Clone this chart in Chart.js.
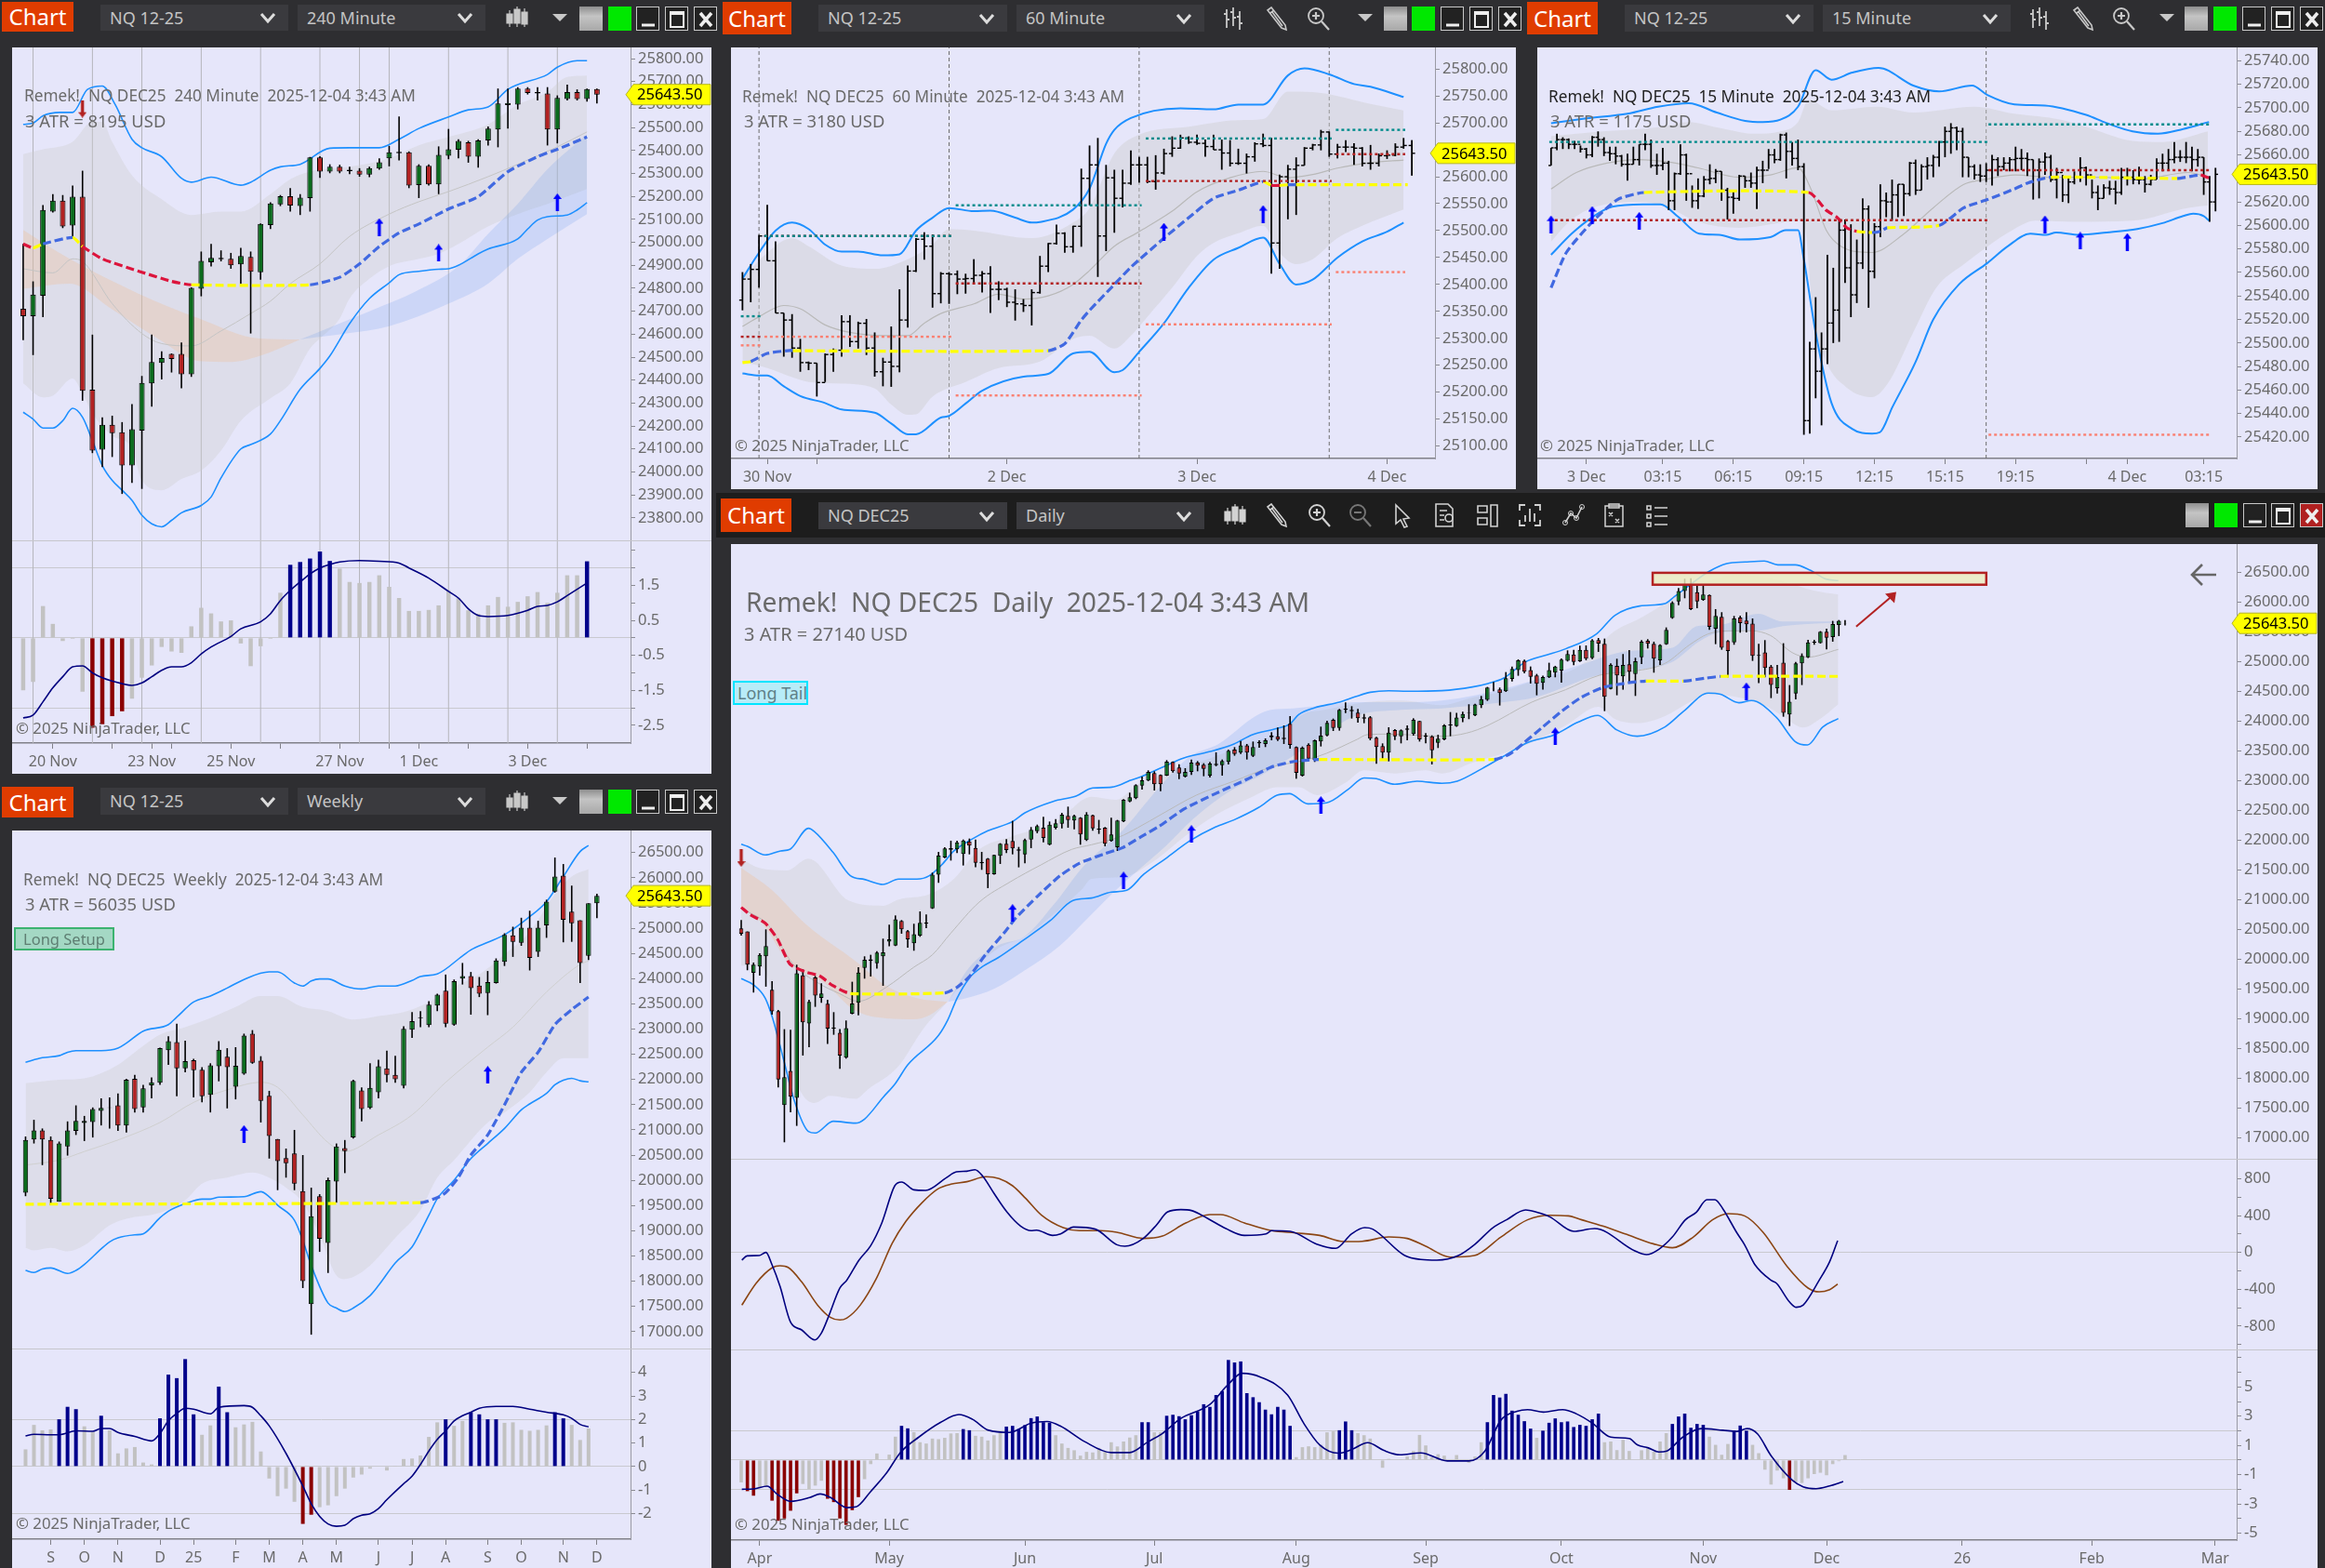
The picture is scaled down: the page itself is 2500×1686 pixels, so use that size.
<!DOCTYPE html>
<html>
<head>
<meta charset="utf-8">
<title>NQ DEC25 workspace</title>
<script src="https://cdn.jsdelivr.net/npm/chart.js@4/dist/chart.umd.min.js"></script>
<style>
  html, body { margin: 0; padding: 0; width: 2500px; height: 1686px; overflow: hidden; background: #2e2e31; }
  #stage { position: absolute; left: 0; top: 0; width: 2500px; height: 1686px; font-family: "Noto Sans", sans-serif; }
  #stage canvas, .el { position: absolute; }
  .el { box-sizing: border-box; white-space: pre; line-height: 1; }
</style>
</head>
<body>
<div id="stage"></div>
<script>
/* ══════════════════════════════════════
   240 MINUTE
══════════════════════════════════════ */
const h4Open = [24711,24678,24767,25134,25182,25073,25199,24358,24097,24205,24173,24028,24180,24386,24475,24514,24514,24425,24798,24913,24926,24928,24904,24937,24870,25075,25165,25201,25158,25193,25370,25308,25329,25310,25312,25295,25321,25366,25388,25392,25249,25334,25253,25377,25403,25436,25373,25444,25492,25598,25600,25670,25648,25648,25492,25624,25655,25624,25668];
const h4High = [24993,24830,25162,25210,25206,25247,25312,24598,24238,24245,24217,24295,24418,24598,24525,24516,24564,24804,24960,24993,24965,24954,24976,24960,25082,25175,25206,25236,25210,25372,25375,25340,25338,25329,25323,25329,25366,25420,25548,25396,25340,25340,25418,25494,25449,25442,25449,25505,25670,25670,25676,25676,25676,25676,25640,25687,25666,25670,25670];
const h4Low = [24574,24509,24674,25130,25062,25019,24310,24082,24021,24065,23904,23952,23926,24284,24403,24433,24364,24414,24765,24895,24917,24885,24820,24603,24837,25058,25158,25134,25119,25134,25281,25301,25301,25297,25286,25284,25316,25331,25357,25236,25193,25247,25210,25362,25366,25347,25325,25422,25414,25496,25579,25644,25618,25422,25431,25618,25618,25613,25605];
const h4Close = [24678,24772,25141,25182,25069,25199,24353,24093,24205,24169,24028,24186,24388,24479,24496,24492,24425,24802,24919,24932,24932,24900,24941,24872,25080,25169,25201,25160,25195,25370,25308,25329,25308,25316,25295,25323,25349,25392,25394,25247,25334,25253,25381,25405,25442,25373,25444,25496,25605,25607,25670,25650,25655,25492,25629,25655,25624,25668,25643.5];
const h4Upper = [[0,25514],[1,25520],[2,25551],[3.7,25566],[5,25566],[6.5,25666],[8,25681],[9.3,25600],[11,25449],[12,25412],[14,25373],[16,25279],[17,25262],[19,25284],[22,25249],[23,25262],[25,25314],[26,25329],[28,25340],[31,25410],[33,25412],[36,25412],[38,25449],[40,25496],[43,25546],[45,25577],[47,25590],[49,25666],[50,25687],[53,25731],[54,25763],[56,25791],[57,25791]];
const h4Lower = [[0,24260],[1,24230],[2,24191],[3,24191],[4,24223],[5,24277],[6,24238],[7,24136],[8,24028],[9,23963],[10,23920],[11,23876],[12,23811],[13,23774],[14,23761],[15,23789],[16,23822],[18,23854],[19,23891],[20,23974],[22,24100],[23,24119],[25,24165],[26,24223],[28,24360],[30,24451],[31,24505],[33,24646],[35,24755],[37,24824],[38,24859],[40,24874],[42,24883],[43,24885],[44,24900],[46,24950],[47,24971],[50,25015],[51,25058],[52,25097],[53,25112],[55,25119],[56,25141],[57,25173]];
const h4BandTop = [[0,25384],[2,25405],[5,25438],[7,25525],[8,25525],[9,25438],[11,25292],[14,25188],[17,25119],[20,25134],[22,25134],[25,25210],[27,25275],[29,25308],[33,25329],[37,25366],[40,25423],[43,25459],[47,25514],[50,25600],[53,25655],[55,25720],[57,25726]];
const h4BandLow = [[0,24386],[2,24325],[3,24332],[5,24407],[6,24342],[7,24256],[9,24158],[11,24104],[12,23963],[14,23920],[16,23969],[18,24006],[20,24093],[22,24223],[25,24321],[27,24386],[29,24538],[30,24581],[32,24668],[33,24755],[35,24841],[37,24896],[40,24928],[42,24950],[44,24993],[47,25069],[50,25123],[53,25167],[57,25232]];
const h4BearTop = [[0,25054],[4.7,24928],[11.7,24776],[17.8,24668],[23.9,24581],[28,24577]];
const h4BearLow = [[0,24798],[4.7,24820],[8.9,24711],[13.6,24581],[17.8,24483],[21,24479],[23.9,24505],[28,24577]];
const h4BullTop = [[28,24577],[31.3,24635],[35,24700],[39.7,24787],[44,24896],[47,25037],[50,25167],[53,25318],[57,25470]];
const h4BullLow = [[28,24577],[32.7,24603],[37,24635],[43,24733],[47,24820],[50,24928],[53,25015],[57,25123]];
const h4Thin = [[0,24885],[3,24867],[5,24928],[6,24917],[9,24733],[12,24603],[14,24559],[17,24549],[20,24614],[23,24690],[25,24744],[27,24820],[30,24906],[33,25026],[37,25123],[40,25177],[43,25221],[47,25286],[50,25340],[54,25416],[57,25481]];
const h4Trail = [[0,24993],[1,24976],[2,24993],[5,25021],[6,24982],[8,24928],[12,24870],[15,24830],[17,24815],[29,24815],[32,24848],[34,24906],[36,24982],[38,25041],[40,25080],[43,25145],[46,25199],[49,25308],[52,25373],[54,25405],[57,25459]];
const h4TrailState = [-1,0,1,0,-1,-1,-1,-1,0,1,1,1,1,1,1,1,1,1,1,1,1];
const h4UpArrows = [[36,25067],[42,24954],[54,25175]];
const h4DownArrows = [[6,25581]];
const h4Sessions = [1,7,12,18,24,30,34,37,43,49,54];
const h4TickAt = [3,9,13,15,21,26,32,37,40,45,51,57];
const h4TickText = ["20 Nov","","23 Nov","","25 Nov","","27 Nov","","1 Dec","","3 Dec",""];
const h4PriceTicks = [25800,25700,25600,25500,25400,25300,25200,25100,25000,24900,24800,24700,24600,24500,24400,24300,24200,24100,24000,23900,23800];
const h4OscTicks = [2.5,2,1.5,1,0.5,0,-0.5,-1,-1.5,-2,-2.5];
const h4Osc = [-1.5,-1.26,0.91,0.4,-0.09,-0.03,-1.54,-2.57,-2.47,-2.24,-2.1,-1.74,-1.14,-0.79,-0.26,-0.39,-0.43,0.33,0.86,0.7,0.47,0.5,-0.16,-0.81,-0.24,-0.03,1.29,2.09,2.17,2.27,2.47,2.2,1.98,1.6,1.57,1.6,1.79,1.46,1.14,0.77,0.77,0.8,0.93,1.36,1.14,0.79,0.69,0.93,1.17,0.89,1.03,1.19,1.31,1,1.29,1.79,1.79,2.19];
const h4OscLine = [[0,-2.29],[1,-2.21],[2,-1.83],[3,-1.43],[4,-1.11],[5,-0.83],[6,-0.8],[7,-1],[8,-1.14],[10,-1.31],[11,-1.36],[12,-1.29],[13,-1.11],[14,-0.93],[15,-0.83],[16,-0.83],[17,-0.71],[18,-0.46],[19,-0.26],[21,0.04],[22,0.26],[24,0.46],[25,0.69],[26,1.07],[27,1.36],[28,1.6],[29,1.83],[30,2],[31,2.1],[32,2.17],[34,2.21],[36,2.19],[38,2.14],[39,2],[41,1.71],[43,1.33],[44,1.14],[45,0.83],[46,0.64],[47,0.61],[49,0.64],[51,0.79],[52,0.9],[53,0.93],[54,1.03],[55,1.21],[56,1.39],[57,1.57]];

/* ══════════════════════════════════════
   60 MINUTE
══════════════════════════════════════ */
const h1Open = [25371,25410,25428,25490,25444,25347,25334,25282,25255,25254,25218,25270,25278,25331,25294,25328,25282,25238,25256,25248,25334,25425,25484,25471,25383,25420,25419,25410,25411,25417,25420,25391,25391,25367,25364,25361,25385,25434,25476,25495,25470,25508,25597,25622,25490,25598,25560,25588,25622,25622,25591,25607,25643,25653,25672,25664,25662,25656,25650,25644,25625,25625,25637,25661,25658,25477,25600,25614,25621,25653,25659,25683,25642,25655,25655,25653,25625,25625,25639,25640,25655,25658];
const h1High = [25423,25438,25492,25548,25480,25347,25345,25299,25257,25254,25272,25281,25343,25343,25331,25336,25311,25264,25322,25391,25435,25486,25497,25493,25423,25423,25426,25420,25447,25425,25434,25406,25394,25391,25373,25391,25453,25477,25511,25497,25509,25615,25658,25672,25622,25613,25613,25649,25637,25637,25640,25652,25675,25678,25675,25678,25669,25678,25669,25668,25652,25643,25664,25680,25672,25604,25622,25636,25655,25661,25687,25684,25661,25668,25662,25655,25659,25643,25649,25662,25672,25668];
const h1Low = [25352,25367,25394,25444,25347,25266,25264,25238,25241,25192,25219,25238,25266,25284,25281,25269,25229,25211,25210,25237,25320,25423,25446,25357,25365,25364,25382,25383,25403,25385,25347,25371,25358,25333,25349,25324,25383,25423,25474,25459,25459,25470,25547,25414,25462,25496,25543,25585,25589,25588,25576,25604,25637,25652,25661,25659,25637,25650,25613,25619,25622,25606,25628,25655,25420,25429,25521,25529,25621,25649,25649,25637,25634,25646,25622,25619,25613,25619,25633,25638,25652,25602];
const h1Close = [25410,25428,25490,25444,25347,25334,25282,25255,25254,25218,25270,25278,25331,25294,25328,25282,25238,25256,25248,25334,25425,25484,25471,25383,25420,25419,25410,25411,25417,25420,25391,25391,25367,25364,25361,25385,25434,25476,25495,25470,25508,25597,25622,25490,25598,25560,25588,25622,25622,25591,25607,25643,25653,25672,25664,25662,25656,25650,25644,25625,25625,25637,25661,25658,25477,25600,25614,25621,25653,25659,25683,25642,25655,25655,25653,25625,25625,25639,25640,25655,25658,25643.5];
const h1Upper = [[0,25411],[2,25459],[4,25500],[6,25515],[8,25503],[10,25474],[12,25461],[14,25461],[17,25454],[19,25456],[21,25500],[23,25524],[25,25542],[28,25536],[30,25537],[33,25524],[35,25515],[36,25516],[40,25539],[42,25578],[44,25661],[45,25687],[47,25709],[53,25727],[57,25725],[60,25734],[63,25734],[66,25788],[68,25801],[71,25790],[74,25772],[76,25767],[80,25748]];
const h1Lower = [[0,25235],[2,25231],[3,25231],[5,25211],[7,25193],[10,25180],[12,25168],[16,25162],[18,25142],[20,25122],[21,25122],[24,25153],[25,25156],[27,25179],[29,25203],[34,25229],[37,25234],[40,25272],[42,25275],[45,25237],[46,25241],[48,25275],[51,25328],[54,25394],[57,25446],[60,25468],[63,25487],[65,25438],[67,25400],[69,25409],[72,25450],[75,25480],[78,25498],[80,25515]];
const h1BandTop = [[0,25411],[3,25459],[6,25486],[8,25471],[12,25435],[16,25429],[20,25447],[23,25474],[25,25503],[28,25500],[35,25486],[40,25515],[42,25542],[45,25643],[48,25678],[54,25693],[60,25705],[63,25707],[66,25758],[69,25757],[72,25750],[76,25735],[80,25723]];
const h1BandLow = [[0,25257],[3,25245],[6,25228],[8,25219],[12,25216],[16,25207],[18,25177],[20,25158],[21,25159],[23,25192],[27,25219],[31,25245],[36,25257],[40,25299],[42,25305],[45,25281],[47,25305],[49,25340],[52,25394],[55,25453],[57,25477],[60,25495],[63,25509],[65,25459],[67,25438],[69,25447],[72,25486],[75,25509],[80,25539]];
const h1Thin = [[0,25322],[2,25340],[5,25361],[7,25355],[10,25325],[13,25311],[17,25305],[20,25305],[22,25328],[24,25346],[28,25364],[31,25382],[34,25373],[37,25379],[40,25400],[42,25426],[45,25471],[48,25498],[52,25536],[55,25572],[59,25598],[63,25610],[66,25598],[69,25604],[72,25616],[76,25626],[80,25631]];
const h1Trail = [[0,25255],[1,25257],[3,25272],[6,25278],[6.1,25277],[37,25277],[39,25290],[41,25334],[42,25352],[45,25400],[47,25432],[51,25486],[54,25524],[57,25560],[60,25575],[63,25591],[64,25584],[65,25584],[66,25585],[67,25585],[80.5,25585]];
const h1TrailState = [0,1,1,1,0,1,1,1,1,1,1,1,1,1,1,0,-1,0,1,0,0];
const h1ResistTeal = [[[-0.2,25341],[2.3,25341]],[[2.65,25490],[25.3,25490]],[[25.8,25547],[48.3,25547]],[[48.8,25671],[71.3,25671]],[[71.8,25687],[80.2,25687]]];
const h1MidRed = [[[-0.2,25303],[2.3,25303]],[[2.65,25490],[25.3,25490]],[[25.8,25402],[48.3,25402]],[[48.8,25592],[71.3,25592]],[[71.8,25642],[80.2,25642]]];
const h1SupportSalmon = [[[-0.2,25287],[2.3,25287]],[[2.65,25303],[25.3,25303]],[[25.8,25194],[48.3,25194]],[[48.8,25326],[71.3,25326]],[[71.8,25423],[80.2,25423]]];
const h1UpArrows = [[51,25498],[63,25531]];
const h1Sessions = [2,25,48,71];
const h1TickAt = [3,9,32,55,78];
const h1TickText = ["30 Nov","","2 Dec","3 Dec","4 Dec"];
const h1PriceTicks = [25800,25750,25700,25650,25600,25550,25500,25450,25400,25350,25300,25250,25200,25150,25100];

/* ══════════════════════════════════════
   15 MINUTE
══════════════════════════════════════ */
const m15Open = [25651,25666,25673,25673,25669,25669,25665,25660,25675,25673,25662,25661,25659,25652,25652,25656,25669,25669,25651,25651,25653,25621,25644,25660,25644,25621,25625,25639,25640,25646,25630,25624,25623,25642,25638,25636,25647,25647,25660,25656,25677,25663,25657,25650,25434,25495,25476,25495,25517,25528,25596,25564,25541,25568,25614,25561,25599,25621,25620,25626,25635,25627,25653,25630,25650,25651,25658,25671,25680,25683,25680,25658,25650,25643,25642,25647,25656,25650,25653,25656,25657,25657,25656,25647,25654,25658,25639,25645,25626,25637,25641,25649,25643,25628,25623,25632,25631,25628,25641,25641,25639,25639,25635,25639,25653,25653,25656,25658,25658,25658,25656,25658,25637,25620];
const m15High = [25666,25678,25675,25674,25672,25668,25666,25676,25680,25675,25667,25667,25660,25661,25667,25669,25678,25673,25661,25666,25655,25645,25669,25661,25634,25640,25642,25652,25648,25646,25632,25629,25643,25642,25645,25650,25655,25665,25665,25678,25679,25671,25673,25653,25501,25539,25509,25575,25564,25606,25605,25601,25588,25623,25617,25602,25635,25628,25639,25635,25635,25654,25656,25652,25658,25660,25672,25684,25687,25684,25683,25658,25652,25652,25653,25660,25658,25658,25658,25667,25665,25662,25656,25657,25662,25660,25649,25643,25642,25646,25658,25650,25639,25634,25635,25638,25638,25649,25649,25647,25650,25642,25643,25657,25661,25665,25671,25664,25671,25667,25665,25658,25642,25649];
const m15Low = [25651,25664,25665,25665,25665,25662,25657,25658,25667,25659,25655,25652,25650,25638,25652,25651,25664,25649,25643,25647,25613,25613,25643,25621,25615,25614,25624,25635,25636,25621,25605,25610,25621,25632,25632,25614,25636,25648,25653,25655,25640,25651,25647,25422,25423,25453,25430,25482,25500,25501,25551,25522,25534,25563,25530,25555,25590,25607,25604,25607,25608,25625,25626,25630,25639,25641,25650,25658,25661,25664,25641,25641,25639,25637,25637,25634,25642,25647,25646,25646,25647,25642,25622,25623,25643,25637,25623,25620,25619,25635,25637,25634,25623,25613,25623,25626,25618,25626,25634,25635,25635,25628,25634,25639,25646,25647,25653,25654,25653,25646,25650,25626,25603,25612];
const m15Close = [25666,25673,25673,25669,25669,25665,25660,25675,25673,25662,25661,25659,25652,25652,25656,25669,25669,25651,25651,25653,25621,25644,25660,25644,25621,25625,25639,25640,25646,25630,25624,25623,25642,25638,25636,25647,25647,25660,25656,25677,25663,25657,25650,25434,25495,25476,25495,25517,25528,25596,25564,25541,25568,25614,25561,25599,25621,25620,25626,25635,25627,25653,25630,25650,25651,25658,25671,25680,25683,25680,25658,25650,25643,25642,25647,25656,25650,25653,25656,25657,25657,25656,25647,25654,25658,25639,25645,25626,25637,25641,25649,25643,25628,25623,25632,25631,25628,25641,25641,25639,25639,25635,25639,25653,25653,25656,25658,25658,25658,25656,25658,25637,25620,25643.5];
const m15Upper = [[0,25687],[6,25691],[13,25695],[18.2,25701],[23.4,25704],[28.2,25696],[33,25689],[36,25688],[39,25690],[42,25701],[45,25732],[47.7,25724],[51.2,25730],[55.7,25734],[61.6,25719],[66,25714],[71.6,25719],[74.2,25711],[78.8,25703],[84,25702],[91,25694],[94.5,25687],[98.9,25680],[103.2,25678],[107.5,25682],[111.9,25688]];
const m15Lower = [[0,25575],[3.5,25593],[7,25607],[10.4,25616],[15.6,25618],[18.6,25618],[21.7,25607],[25.2,25593],[28.6,25592],[32.1,25588],[37.3,25590],[39.9,25596],[42,25596],[42.9,25574],[45,25509],[47.7,25449],[51.2,25427],[54.6,25423],[55.9,25424],[58.1,25446],[62,25484],[65,25520],[69.4,25550],[74.2,25568],[77.6,25582],[81.5,25593],[84.2,25592],[85.9,25594],[89.8,25592],[94.5,25594],[99.7,25597],[104,25602],[107.5,25608],[109.2,25610],[111,25608],[111.9,25604]];
const m15BandTop = [[0,25676],[8.7,25680],[19,25684],[23.4,25688],[28.6,25683],[34.7,25678],[39,25680],[42,25688],[43.8,25707],[47.7,25698],[55.5,25701],[61.6,25696],[72,25701],[78.8,25695],[86.7,25690],[91,25684],[98.9,25672],[104,25671],[111.7,25680]];
const m15BandLow = [[0,25586],[2.6,25601],[7,25615],[15.6,25620],[20,25615],[25,25603],[32,25598],[42.9,25604],[44.7,25520],[46.8,25484],[50.3,25462],[54.6,25454],[57.2,25465],[61.6,25509],[65.5,25547],[70.2,25567],[74.2,25582],[78.8,25597],[82.4,25604],[89.3,25603],[98.9,25604],[108.4,25615],[111.7,25617]];
const m15Thin = [[0,25631],[4.3,25645],[9.5,25653],[14.7,25656],[20,25654],[25,25649],[32,25641],[37.3,25643],[42,25649],[44.2,25631],[46.8,25596],[49.4,25582],[54.6,25577],[59.8,25592],[65,25615],[70.2,25635],[73.7,25639],[78.9,25643],[85,25641],[93.7,25641],[99.7,25639],[108.4,25645],[111.7,25641]];
const m15Trail = [[0,25547],[2.6,25577],[7,25603],[11.3,25622],[15.8,25628],[43.8,25628],[46.8,25613],[48.6,25607],[50.3,25598],[52,25595],[54.6,25594],[56,25595],[57.2,25598],[66,25600],[70.2,25615],[74.2,25622],[78.8,25631],[81,25636],[85,25641],[106.5,25640],[109,25642],[110.5,25643],[112,25640]];
const m15TrailState = [1,1,1,1,0,-1,-1,-1,-1,0,1,1,0,1,1,1,1,1,0,1,1,-1,-1];
const m15ResistTeal = [[[-0.3,25671],[74.2,25671]],[[74.4,25686],[112,25686]]];
const m15MidRed = [[[-0.3,25604.5],[74.2,25604.5]],[[74.4,25647],[112,25647]]];
const m15SupportSalmon = [[[74.4,25422],[112,25422]]];
const m15UpArrows = [[0,25601],[7,25609],[15,25604],[84,25601],[90,25587],[98,25586]];
const m15Sessions = [74];
const m15TickAt = [6,19,31,43,55,67,79,91,98,111];
const m15TickText = ["3 Dec","03:15","06:15","09:15","12:15","15:15","19:15","","4 Dec","03:15"];
const m15PriceTicks = [25740,25720,25700,25680,25660,25640,25620,25600,25580,25560,25540,25520,25500,25480,25460,25440,25420];

/* ══════════════════════════════════════
   WEEKLY
══════════════════════════════════════ */
const wkOpen = [19756,20811,20989,20800,19577,20671,20979,21139,21158,21377,21436,21487,21089,22013,21446,21884,21934,22581,22740,22223,22382,22193,21695,22263,22452,21855,22114,22909,22372,21675,20820,20442,20532,19786,17547,19686,18761,19974,20641,20850,21785,21436,21745,22223,22094,21874,22987,23215,23077,23464,23763,23087,24002,24052,23863,23713,23912,24331,24859,24710,25008,24530,25058,25724,26043,25326,25157,24451,25495];
const wkHigh = [20870,21201,21029,20870,20770,21169,21487,21278,21446,21626,21646,21725,22013,22093,21894,22043,22631,22859,23108,22770,22412,22243,22322,22760,22621,22641,22909,22979,22462,21775,20820,20631,21000,20502,19855,19726,20054,20731,20800,21994,21845,22322,22392,22571,22472,23057,23335,23355,23554,23703,24081,23982,24311,24132,24032,24151,24401,24899,25029,25207,25346,25147,25565,26401,26272,25844,25157,25495,25685];
const wkLow = [19686,20731,20302,19507,19577,20491,20900,20780,20850,21089,21029,20979,20949,21347,21347,21626,21894,22292,21666,22143,21646,21546,21347,21964,21427,21606,22094,22312,21148,20432,19806,20054,19806,17865,16940,18582,18164,19557,20144,20830,21168,21416,21626,21944,21934,21825,22827,23037,23037,23355,23037,23067,23883,23285,23634,23276,23902,24251,24431,24650,24162,24431,24809,25705,24720,24730,23913,24371,25197];
const wkClose = [20800,20989,20811,19636,20731,20989,21178,21178,21416,21436,21446,21089,21993,21416,21825,21944,22621,22760,22223,22362,22183,21666,22283,22591,22243,22273,22870,22332,21576,20880,20382,20342,19935,18004,19288,18841,20004,20671,20581,21974,21416,21835,22263,22094,22004,23007,23156,23235,23484,23683,23107,23952,24052,23813,23703,23932,24361,24869,24730,25008,24411,25008,25525,26023,25167,25098,24311,25495,25643.5];
const wkUpper = [[0,22342],[2,22432],[4,22472],[5,22541],[6,22571],[9,22571],[11,22621],[12,22720],[14,22959],[17,23088],[18,23237],[20,23536],[22,23655],[24,23814],[26,23984],[29,24133],[30,24133],[32,23914],[33,23854],[34,23954],[35,23993],[36,23993],[38,23854],[40,23795],[42,23854],[44,23854],[46,23964],[47,24043],[49,24093],[52,24451],[53,24570],[55,24720],[57,24869],[60,25227],[62,25525],[64,26023],[66,26520],[67,26640]];
const wkLower = [[0,18214],[1,18174],[2,18244],[3,18264],[5,18154],[6,18214],[7,18333],[9,18642],[10,18781],[11,18860],[13,18920],[14,18940],[16,19258],[17,19388],[19,19537],[21,19627],[22,19627],[23,19666],[26,19676],[28,19776],[29,19676],[30,19507],[32,19209],[33,18811],[34,18313],[36,17567],[37,17467],[38,17398],[39,17467],[41,17716],[42,17915],[44,18363],[46,18681],[47,18980],[48,19308],[49,19636],[51,20004],[53,20432],[55,20731],[57,21029],[59,21397],[60,21516],[62,21725],[63,21894],[64,21984],[65,22024],[66,21974],[67,21954]];
const wkBandTop = [[0,21924],[4,21994],[7,22024],[11,22292],[13,22541],[16,22889],[19,23038],[22,23217],[25,23436],[28,23655],[30,23655],[33,23436],[36,23357],[39,23188],[42,23257],[45,23337],[48,23536],[51,23835],[54,24084],[57,24481],[60,24929],[63,25675],[65,26023],[67,26172]];
const wkBandLow = [[0,18662],[1,18612],[3,18662],[5,18592],[7,18711],[10,19109],[12,19238],[16,19358],[19,19606],[21,19935],[24,20054],[27,20154],[29,20054],[31,19855],[33,19557],[35,18910],[37,18114],[38,18045],[39,18084],[41,18313],[44,18860],[47,19408],[49,20054],[51,20402],[55,21148],[57,21347],[60,21745],[62,22143],[64,22422],[67,22422]];
const wkThin = [[0,20303],[4,20402],[7,20572],[11,20800],[16,21148],[20,21546],[24,21795],[28,21944],[30,21845],[33,21298],[36,20750],[38,20572],[42,20900],[46,21298],[50,21944],[55,22641],[58,23038],[62,23735],[66,24282],[67,24352]];
const wkTrail = [[0,19527],[47,19557],[49,19656],[50,19756],[51.5,20054],[53,20502],[55,20900],[57,21497],[59,22143],[61,22541],[63,23088],[65,23387],[67,23635]];
const wkTrailState = [0,1,1,1,1,1,1,1,1,1,1,1,1];
const wkUpArrows = [[26,20920],[55,22094]];
const wkTickAt = [3,7,11,16,20,25,29,33,37,42,46,50,55,59,64,68];
const wkTickText = ["S","O","N","D","25","F","M","A","M","J","J","A","S","O","N","D"];
const wkPriceTicks = [26500,26000,25500,25000,24500,24000,23500,23000,22500,22000,21500,21000,20500,20000,19500,19000,18500,18000,17500,17000];
const wkOscTicks = [4,3,2,1,0,-1,-2];
const wkOsc = [0.73,1.77,1.54,1.58,2.01,2.54,2.44,1.71,1.48,2.16,1.54,0.56,0.77,0.83,0.17,0.09,2.05,3.91,3.76,4.57,2.22,1.35,1.75,3.4,2.31,1.67,1.79,1.9,0.64,-0.51,-1.26,-0.94,-1.5,-2.44,-2.05,-1.73,-1.65,-1.26,-0.94,-0.47,-0.34,-0.09,0,-0.17,0.01,0.32,0.34,0.47,1.26,1.88,2.01,1.73,1.94,2.31,2.22,2.01,2.01,1.86,1.88,1.56,1.52,1.56,1.75,2.31,2.05,1.77,1.13,1.62];
const wkOscLine = [[0,1.3],[1,1.37],[3,1.35],[4,1.35],[6,1.52],[8,1.5],[9,1.62],[10,1.62],[11,1.45],[13,1.28],[15,1.09],[16,1.41],[17,1.94],[18,2.26],[19,2.48],[20,2.44],[22,2.24],[23,2.52],[26,2.59],[27,2.52],[28,2.16],[29,1.73],[31,0.56],[33,-0.83],[34,-1.58],[35,-2.12],[36,-2.44],[37,-2.54],[38,-2.5],[39,-2.22],[40,-2.07],[41,-2.01],[42,-1.79],[43,-1.41],[45,-0.73],[46,-0.41],[47,0.09],[48,0.66],[49,1.15],[50,1.52],[51,1.94],[52,2.16],[53,2.31],[54,2.48],[56,2.56],[58,2.56],[60,2.44],[62,2.31],[64,2.2],[65,2.05],[66,1.79],[67,1.69]];

/* ══════════════════════════════════════
   DAILY
══════════════════════════════════════ */
const dyOpen = [20517,20465,19772,19876,20048,19486,19126,17548,18121,17668,19730,18918,19694,19350,19251,18834,18762,18345,19084,19267,19855,19970,19933,20048,20293,20230,20642,20470,20267,20397,20595,20855,21418,21709,21839,21845,21767,21980,21871,21610,21689,21428,21735,21938,21985,21824,21761,22011,22152,22209,21923,22209,22277,22407,22329,22376,22001,22418,22173,22209,21986,21881,22314,22652,22704,22918,23001,23126,23095,23084,23314,23220,23069,23147,23303,23267,23084,23261,23261,23314,23522,23470,23590,23418,23626,23616,23730,23746,23699,23954,23564,23084,23605,23345,23657,23761,24022,23886,24188,24168,24142,24043,24063,23720,23579,23470,23850,23746,23855,23782,24001,23761,23746,23636,23694,23928,23918,24048,24137,24095,24267,24356,24533,24533,24502,24710,24856,25012,24856,24767,24642,24736,24814,24850,25012,25121,25007,25199,25059,25361,25298,24543,24929,24752,24955,24793,25074,25350,25298,25022,25293,25731,26012,26184,26298,26168,26038,26121,25554,25751,25345,25324,25741,25689,25637,25095,25153,24918,24554,24981,24111,24465,24970,25074,25319,25309,25501,25413,25616,25640];
const dyHigh = [20657,20465,19944,20100,20501,19631,19147,18824,18814,19907,19829,19319,19720,19595,19319,19110,18824,18970,19621,19866,20048,20074,20136,20345,20579,20735,20657,20491,20595,20803,20751,21454,21803,21881,21991,21991,22011,22027,22011,21803,21699,21756,21949,22017,22324,21886,22027,22220,22261,22392,22313,22355,22459,22563,22428,22386,22470,22428,22340,22220,22376,22340,22689,22798,22939,23069,23173,23157,23105,23345,23324,23277,23209,23355,23329,23293,23314,23475,23355,23522,23563,23668,23616,23657,23678,23709,23814,23892,23928,24084,23574,23574,23626,23689,23907,24006,24043,24204,24313,24251,24204,24121,24084,23735,23626,23897,23866,23860,23928,24048,24006,23798,23761,23772,23949,24152,24137,24158,24283,24293,24423,24574,24658,24564,24824,24918,25038,25033,24918,24793,24762,24981,24929,25054,25189,25199,25267,25272,25377,25397,25387,24970,25048,25127,25194,25064,25361,25377,25335,25293,25574,26012,26236,26392,26402,26283,26283,26126,25882,25830,25361,25767,25772,25830,25725,25298,25361,24944,24944,25309,24606,24996,25137,25366,25366,25512,25553,25684,25699,25699];
const dyLow = [20397,19814,19439,19725,19538,19069,17845,16923,17428,17199,18381,18522,19199,19267,18574,18730,18157,18329,19074,19058,19673,19709,19840,19553,20215,20220,20428,20194,20142,20376,20522,20845,21282,21699,21657,21782,21574,21761,21543,21501,21194,21418,21600,21782,21761,21543,21610,21866,22116,21964,21912,22183,22199,22209,22183,21923,21986,22157,22105,21897,21975,21819,22303,22637,22689,22850,22991,22834,22824,23079,23136,23027,23053,23095,23157,23074,23053,23241,23084,23272,23418,23449,23355,23397,23553,23564,23678,23668,23616,23537,23032,23069,23355,23314,23574,23746,23834,23840,24136,24043,23975,23965,23678,23282,23366,23324,23683,23626,23678,23756,23657,23626,23272,23548,23678,23746,23903,23981,24033,24085,24220,24340,24502,24262,24491,24668,24762,24804,24632,24434,24528,24725,24736,24647,25002,24939,24996,25022,25043,25163,24168,24533,24434,24528,24658,24423,24960,25220,24814,24944,25283,25720,25949,26064,25866,25897,26022,25533,25293,25199,24736,25283,25486,25491,25012,24637,24736,24387,24465,24074,23918,24366,24606,25059,25283,25304,25205,25335,25429,25606];
const dyClose = [20428,19907,19907,20074,20220,19121,17980,18017,17689,19762,18939,19282,19387,19423,18834,18855,18381,18840,19256,19777,19991,19996,20110,20116,20334,20668,20501,20334,20418,20610,20616,21418,21741,21860,21866,21964,21996,21907,21621,21636,21428,21751,21938,21834,21860,21845,22001,22173,22235,22037,22261,22282,22428,22339,22407,22095,22433,22199,22194,21939,22095,22329,22678,22720,22923,23006,23147,22939,22939,23319,23157,23121,23147,23303,23251,23199,23287,23282,23329,23501,23449,23590,23470,23564,23652,23678,23761,23689,23720,23600,23131,23553,23371,23678,23756,23970,23886,24188,24209,24188,24048,24063,23704,23564,23470,23808,23746,23845,23876,24022,23694,23735,23511,23704,23928,23944,24059,24121,24147,24278,24371,24564,24543,24470,24720,24877,25022,24830,24746,24627,24741,24856,24918,25033,25127,24996,25199,25048,25356,25304,24408,24949,24767,24944,24830,25007,25335,25298,25048,25278,25533,25986,26184,26298,25882,26012,26126,25585,25767,25231,25179,25725,25647,25626,25095,25111,24892,24606,24741,24137,24325,24970,25095,25324,25335,25501,25402,25632,25684,25643.5];
const dyUpper = [[0,21933],[1,21897],[3.9,21751],[6.4,21819],[7.9,21845],[10.9,22199],[11.9,22142],[14.9,21793],[17.7,21402],[20,21340],[23,21256],[25.5,21345],[28.5,21345],[30.5,21402],[32.5,21584],[34.5,21819],[37.6,22027],[40,22157],[44,22313],[46,22459],[50.6,22652],[54.3,22741],[57,22876],[59.8,22886],[61.3,22923],[63,23001],[64.9,23069],[68.3,23225],[71.8,23381],[75.9,23485],[79.9,23616],[82.9,23772],[86.9,23876],[89,23954],[90.4,24110],[93,24225],[97,24319],[99.5,24407],[102,24485],[105,24511],[108,24501],[113.6,24512],[118.6,24574],[121.1,24632],[123.6,24720],[127.2,24996],[130.2,25100],[133.7,25215],[138.7,25465],[141.7,25778],[145.7,25934],[149.8,25975],[151.3,26090],[154.3,26324],[156.8,26507],[159.8,26647],[162.8,26673],[165.9,26689],[168.1,26626],[170.9,26626],[173.4,26533],[175.9,26387],[177.9,26361]];
const dyLower = [[0,19673],[2,19569],[3.9,19345],[5.1,19006],[6.9,18303],[8.6,17626],[10.9,17105],[12,17079],[14.9,17277],[18.5,17246],[20,17314],[23,17678],[25,17913],[27,18225],[32,18720],[33.5,18980],[35,19345],[37,19683],[39,19866],[41.6,20022],[45.6,20308],[50.1,20647],[53.8,20986],[56.8,21027],[60,21126],[62.5,21157],[65.3,21428],[68.8,21689],[72.8,21991],[76.9,22220],[79.9,22340],[83.9,22548],[86.9,22756],[88.9,22782],[91.9,22610],[94.9,22626],[98.5,22860],[101,23046],[103,23032],[106,22939],[109.6,22991],[113.6,22955],[116.1,22991],[120.1,23200],[123.6,23408],[127.6,23642],[131.7,23762],[135.7,23981],[138.9,24095],[142,23851],[145.3,23746],[149.8,23903],[152.8,24163],[156.8,24470],[158.8,24450],[161.8,24309],[163.8,24345],[167.9,24059],[170.9,23658],[172.9,23600],[175.4,23903],[177.9,24043]];
const dyBandTop = [[0,21689],[2.9,21532],[7.4,21491],[10.9,21689],[17.4,20985],[23,20897],[25.5,21001],[30.5,21090],[34.5,21350],[38.6,21845],[43.6,22053],[51.1,22313],[56.8,22730],[60.8,22678],[64.3,22939],[68.3,23095],[76.9,23407],[81.9,23616],[86.9,23772],[91,24110],[94.5,24188],[99.5,24293],[103,24334],[107,24345],[113.6,24267],[118.6,24397],[123.6,24502],[128.7,24684],[136.2,24944],[139.7,25335],[141.7,25517],[145.7,25725],[153.8,26220],[156.8,26350],[161.3,26455],[165.9,26418],[168.9,26350],[173.9,26194],[177.9,26126]];
const dyBandLow = [[0,19892],[3.4,19866],[5.4,19241],[7.9,18251],[9.9,17730],[11.9,17585],[14.4,17704],[18.5,17652],[20.5,17808],[25.5,18199],[29.5,18824],[33.5,19293],[37.6,19814],[41.6,20178],[46.1,20386],[50.6,20751],[55.2,21168],[56.8,21350],[61.8,21376],[66.8,21637],[71.8,22053],[76.9,22418],[82.9,22730],[86.9,22887],[90.4,22887],[93.4,22756],[98,22965],[101,23173],[106,23121],[111,23173],[113.6,23121],[118.6,23304],[123.6,23460],[128.7,23668],[133.7,23929],[139,24241],[141.7,24033],[145.3,23965],[149.8,24085],[153.8,24319],[156.8,24450],[161.8,24397],[165.9,24267],[168.9,24085],[172.2,23892],[174.9,24033],[177.9,24283]];
const dyBearTop = [[0,21532],[4.9,21168],[10.4,20595],[18.5,19970],[23.5,19553],[28.5,19345],[33.5,19282]];
const dyBearLow = [[0,20855],[3.4,20595],[7.9,19918],[13.4,19605],[18.5,19137],[23.5,19006],[28,18991],[30.5,19058],[33.5,19282]];
const dyBullTop = [[33.5,19282],[37,19866],[41.6,20230],[46,20386],[50.6,20907],[55.7,21584],[61.8,22157],[67.8,22887],[72.8,23407],[77.4,23616],[83.4,24084],[85.9,24188],[89.4,24215],[94.9,24267],[99.5,24319],[107,24319],[113.6,24345],[125,24580],[136,24944],[144,25179],[151,25231],[155,25595],[158.8,25621],[164.9,25804],[168.9,25673],[178,25673]];
const dyBullLow = [[33.5,19282],[36.5,19345],[41,19501],[46,19814],[51.7,20230],[56.8,20751],[60.3,21116],[64.8,21532],[68.8,21897],[73.4,22366],[79.4,22834],[84.4,23095],[89.4,23407],[94.5,23772],[99.5,24084],[107,24188],[113.6,24215],[123.6,24319],[128.7,24397],[138.7,24762],[143.7,24840],[151,24996],[155.3,25335],[158.8,25491],[164.9,25517],[168.9,25595],[178,25658]];
const dyThin = [[0,20855],[4.4,20569],[8.4,19918],[12.4,19605],[15.9,19423],[19,19293],[23.5,19527],[28,19866],[31,20074],[34,20439],[38.6,20959],[43.6,21298],[48.6,21584],[53.6,21845],[56.8,21923],[61.3,22053],[64.3,22209],[68.3,22444],[73.8,22756],[79.9,22991],[85.9,23225],[91.9,23355],[94.9,23459],[99.9,23694],[101.5,23772],[105,23782],[113.6,23746],[117.6,23798],[121.1,23929],[128.2,24319],[133.7,24528],[139.2,24772],[144.8,24840],[149.8,24970],[153.8,25283],[156.8,25465],[160.3,25517],[163.8,25517],[166.9,25439],[170.4,25153],[172.9,25074],[177.9,25205]];
const dyTrail = [[0,20871],[1.4,20751],[3.9,20605],[5.9,20334],[7.9,19918],[10.4,19787],[12.7,19720],[14.9,19553],[17.7,19423],[33,19433],[35,19527],[37,19709],[39.6,20074],[42.6,20439],[44.6,20699],[48.1,21063],[51.7,21402],[54.8,21610],[58.8,21767],[61.8,21871],[64.8,22053],[67.8,22235],[71.8,22522],[76.9,22782],[81.9,23017],[85.9,23225],[89.4,23319],[91.9,23345],[93.7,23355],[122.1,23356],[124.6,23444],[126.7,23616],[129.7,23877],[133.2,24179],[136.2,24397],[139.7,24564],[143.7,24642],[146.7,24673],[152.8,24673],[156.3,24720],[158.8,24752],[177.9,24752]];
const dyTrailState = [-1,-1,-1,-1,-1,-1,-1,-1,0,1,1,1,1,1,1,1,1,1,1,1,1,1,1,1,1,1,1,1,0,1,1,1,1,1,1,1,1,0,1,1,0,0];
const dyUpArrows = [[44,20777],[62,21324],[73,22105],[94,22590],[132,23746],[163,24502]];
const dyDownArrows = [[0,21699]];
const dyZoneX = [147.8,201.9];
const dyZoneY = [26292,26492];
const dyTargetX = [180.8,187.3];
const dyTargetY = [25589,26170];
const dyTickAt = [3,24,46,67,90,111,133,156,176,198,219,239];
const dyTickText = ["Apr","May","Jun","Jul","Aug","Sep","Oct","Nov","Dec","26","Feb","Mar"];
const dyPriceTicks = [26500,26000,25500,25000,24500,24000,23500,23000,22500,22000,21500,21000,20500,20000,19500,19000,18500,18000,17500,17000];
const dyMacdTicks = [800,600,400,200,0,-200,-400,-600,-800,-1000];
const dyOscTicks = [7,6,5,4,3,2,1,0,-1,-2,-3,-4,-5];
const dyMacd = [[0.1,-84],[0.95,-37],[2.9,-34],[4,0],[5,-135],[6.3,-370],[8,-758],[9.8,-842],[11.95,-950],[13,-876],[14.1,-707],[16,-387],[17.1,-303],[19.1,-84],[21,74],[22.8,320],[24.9,724],[26,765],[28,680],[29.9,674],[33.2,808],[34.9,876],[36.6,882],[37.9,899],[39.2,825],[41,640],[43.1,438],[45.3,286],[47,236],[47.9,242],[50.5,185],[51.8,202],[53.9,276],[57.4,253],[60.9,84],[62.2,67],[65.2,152],[67.4,303],[69.1,438],[71.3,465],[73,455],[75.6,370],[78.6,259],[81.6,185],[85.1,202],[86,236],[89,229],[93.3,91],[96.4,44],[99,202],[101.1,269],[102.4,253],[107.6,-34],[110.2,-77],[112.8,-84],[116.3,-34],[118.9,84],[121.9,269],[124.1,354],[127.2,461],[128.9,438],[131.1,387],[135,229],[138.4,259],[144.9,17],[146.8,-24],[148.8,34],[151,168],[153.1,354],[154.9,438],[156.6,573],[157.9,573],[159.2,472],[161.4,219],[162.7,84],[164.4,-135],[167,-303],[167.9,-337],[170,-539],[171.1,-596],[172.2,-573],[174.8,-303],[176.5,-101],[177.8,128]];
const dyMacdSignal = [[0.1,-573],[2.4,-337],[5,-168],[6.3,-145],[7.6,-162],[9.8,-320],[12.4,-573],[14.5,-707],[16,-734],[17.1,-714],[19.3,-573],[21.9,-286],[24.5,101],[26.7,337],[29.3,539],[31.9,690],[34,741],[36.6,768],[39.7,822],[41.8,802],[44,724],[46.1,589],[48.7,404],[52.2,269],[54.8,236],[58.3,236],[60.9,219],[65.2,152],[68.2,175],[72.1,320],[76,411],[77.7,411],[81.6,320],[86,236],[89.9,212],[93.8,185],[97.7,118],[100.7,121],[105,168],[108,152],[111,67],[115,-51],[118.9,-34],[123.2,168],[127.5,354],[131.1,404],[134.1,397],[136.3,354],[139.7,286],[143.6,195],[147.9,94],[151,51],[154.4,168],[157.5,354],[160,421],[162.7,397],[165.7,219],[169.6,-152],[173,-387],[174.8,-428],[176.5,-404],[177.8,-344]];
const dyOsc = [-1.53,-2.13,-2.44,-1.85,-1.85,-2.78,-4.16,-4,-3.47,-2.28,-1.64,-1.98,-1.75,-1.42,-2.65,-2.88,-4,-4.44,-3.43,-2.54,-1.31,-0.28,0.45,0.04,0.37,1.6,2.34,2.17,1.91,1.22,1.13,1.47,1.43,1.52,1.82,1.84,2.12,2.04,1.66,1.6,1.34,1.7,1.9,2.29,2.34,2.12,2.39,2.87,2.98,2.59,2.55,1.7,1.13,0.83,0.67,0.3,0.56,0.52,0.83,0.58,1.22,0.93,1.27,1.54,1.7,2.59,2.59,1.9,1.9,3.03,3.1,3,2.79,3.07,3.33,3.82,3.64,4.45,4.71,6.85,6.68,6.75,4.58,4.3,3.96,3.45,3.13,3.64,3.45,2.34,0.2,0.88,0.94,0.88,1.04,1.9,1.96,2.04,2.64,2.04,1.84,1.7,1.47,0.03,-0.53,0.08,0,0.01,0.24,0.62,1.72,1,0.2,0.4,0.3,0,0.34,0,-0.19,0.24,1.22,2.59,4.45,4.28,4.53,3.38,3.1,2.66,2.15,1.52,2.01,2.55,2.85,2.59,2.64,2.26,2.41,2.34,2.79,3.18,1.22,1.27,0.68,1.38,0.62,0,0.67,0.83,0.56,1.27,1.84,2.47,2.98,3.18,2.21,2.47,2.41,1.6,1.04,0.36,1.1,2.01,2.36,2.01,1.04,0.47,-0.66,-1.68,-0.72,-1.25,-2.04,-1.5,-1.57,-1.25,-0.96,-0.87,-1.04,-0.28,-0.08,0.34];
const dyOscLine = [[0.1,-2],[2,-1.98],[4.2,-1.79],[5.9,-2.36],[8,-2.83],[11.1,-2.57],[12.8,-2.32],[14.5,-2.57],[17.1,-3.26],[18.6,-3.21],[21,-2.15],[23.6,-0.87],[25.8,0.51],[28.8,1.57],[32.3,2.57],[35.3,3.11],[37.5,2.79],[40.1,2.04],[43.5,1.89],[47,2.53],[49.6,2.64],[51.8,2.32],[55.7,1.26],[60,0.51],[63,0.51],[66,1.26],[68.2,1.79],[71.3,2.85],[76,3.81],[79,5.19],[81.2,5.94],[84.2,5.68],[88.6,4.45],[91.2,2.53],[93.8,1.04],[96.8,0.47],[99,0.72],[101.6,1.19],[104.2,0.66],[106.8,0.36],[110.2,0.49],[114.5,-0.06],[118,-0.06],[120.6,0.62],[123.2,2.74],[125.8,3.34],[127.5,3.45],[130.1,3.28],[133.2,3.45],[135.4,3.17],[138,2.53],[141,1.57],[144,1.47],[145.3,1.04],[147.1,0.83],[148.8,0.55],[150.1,0.62],[152.7,1.57],[155.7,2.15],[159.2,2.04],[161.4,1.96],[163.1,2.15],[164.8,1.79],[167,0.3],[170.5,-1.4],[172.2,-1.83],[174.3,-1.96],[176.5,-1.77],[178.7,-1.47]];

const lastPrice = 25643.5;

/* ══════════════════════════════════════
   HELPERS
══════════════════════════════════════ */
const stage = document.getElementById("stage");
const LAVENDER = "#e6e6fa";
const TEXT_GREY = "#6a6a6a";
const FONT = '"Noto Sans", sans-serif';

function el(x, y, w, h, css, text) {
  const d = document.createElement("div");
  d.className = "el";
  d.style.cssText = `left:${x}px;top:${y}px;` +
    (w ? `width:${w}px;` : "") + (h ? `height:${h}px;` : "") + (css || "");
  if (text) d.textContent = text;
  stage.appendChild(d);
  return d;
}

function label(x, yMid, size, color, text) {
  return el(x, yMid - size * 0.62, 0, 0, `font-size:${size}px;color:${color};line-height:${size * 1.24}px;z-index:3;`, text);
}

const xy = (pairs) => pairs.map(([x, y]) => ({ x, y }));

function makeArrow(color) {
  const c = document.createElement("canvas");
  c.width = 9; c.height = 19;
  const g = c.getContext("2d");
  g.fillStyle = color;
  g.beginPath();
  g.moveTo(4.5, 0); g.lineTo(9, 6); g.lineTo(6.2, 6); g.lineTo(6.2, 19);
  g.lineTo(2.8, 19); g.lineTo(2.8, 6); g.lineTo(0, 6);
  g.closePath(); g.fill();
  return c;
}
const upArrow = makeArrow("#0000ff");
const downArrow = makeArrow("#b22222");

function line(pairs, color, width, extra) {
  return Object.assign({
    type: "line", data: xy(pairs), borderColor: color, borderWidth: width,
    pointRadius: 0, fill: false, cubicInterpolationMode: "monotone", order: 5,
  }, extra || {});
}

function band(top, low, color, order) {
  return [
    line(low, "transparent", 0, { order }),
    line(top, "transparent", 0, { order, fill: { target: "-1" }, backgroundColor: color }),
  ];
}

function trail(pairs, state) {
  const colors = { "-1": "#dc143c", "0": "#ffff00", "1": "#4169e1" };
  return line(pairs, "#4169e1", 3.2, {
    order: 3, cubicInterpolationMode: "default", tension: 0.2, borderDash: [9, 4],
    segment: { borderColor: (c) => colors[state[c.p0DataIndex]] },
  });
}

function arrows(pairs, style, rotation) {
  return {
    type: "line", data: xy(pairs), showLine: false, order: 1,
    pointStyle: style, pointRotation: rotation || 0, pointRadius: 9,
  };
}

function sessions(list, lo, hi, color, dash) {
  return list.map((v) => ({
    type: "line", data: [{ x: v, y: lo }, { x: v, y: hi }], borderColor: color,
    borderWidth: 1, pointRadius: 0, borderDash: dash || [], order: 9,
  }));
}

function stairs(runs, color) {
  return runs.map((r) => line(r, color, 2.4, { order: 2, borderDash: [3, 3], cubicInterpolationMode: "default", tension: 0 }));
}

function candles(open, high, low, close, bodyW) {
  const idx = open.map((_, i) => i);
  return [
    {
      type: "bar", grouped: false, barPercentage: 1, maxBarThickness: 1.6, order: 4.2,
      data: idx.map((i) => ({ x: i, y: [low[i], high[i]] })), backgroundColor: "#000",
    },
    {
      type: "bar", grouped: false, barPercentage: 1, maxBarThickness: bodyW, order: 4.1,
      data: idx.map((i) => ({ x: i, y: [open[i], close[i]] })),
      backgroundColor: idx.map((i) => (close[i] >= open[i] ? "#0b6b1d" : "#b22222")),
      borderColor: "#000", borderWidth: 1, borderSkipped: false,
    },
  ];
}

function ohlcBars(open, high, low, close, tick) {
  const idx = open.map((_, i) => i);
  const dash = (arr, rot) => ({
    type: "line", showLine: false, order: 4.1, data: idx.map((i) => ({ x: i, y: arr[i] })),
    pointStyle: "dash", pointRadius: tick, pointRotation: rot, pointBorderColor: "#000", pointBorderWidth: 1.4,
  });
  return [
    {
      type: "bar", grouped: false, barPercentage: 1, maxBarThickness: 1.8, order: 4.2,
      data: idx.map((i) => ({ x: i, y: [low[i], high[i]] })), backgroundColor: "#000",
    },
    dash(open, 180),
    dash(close, 0),
  ];
}

function oscBars(values, width) {
  return {
    type: "bar", grouped: false, barPercentage: 1, maxBarThickness: width, order: 6,
    data: values.map((v, i) => ({ x: i, y: [0, v] })),
    backgroundColor: values.map((v) => (v >= 2 ? "#00008b" : v <= -2 ? "#8b0000" : "#c2c2c2")),
  };
}

const priceFlag = {
  id: "priceFlag",
  afterDraw(chart) {
    const y = chart.scales.y.getPixelForValue(lastPrice);
    const left = chart.scales.y.left - 5;
    const right = chart.width - 1;
    const g = chart.ctx;
    g.save();
    g.fillStyle = "#ffff00";
    g.strokeStyle = "#b5b520";
    g.beginPath();
    g.moveTo(left, y); g.lineTo(left + 8, y - 11); g.lineTo(right, y - 11);
    g.lineTo(right, y + 11); g.lineTo(left + 8, y + 11); g.closePath();
    g.fill(); g.stroke();
    g.fillStyle = "#000";
    g.font = `16.5px ${FONT}`;
    g.textBaseline = "middle";
    g.fillText(lastPrice.toFixed(2), left + 12, y + 1);
    g.restore();
  },
};

const dailyMarks = {
  id: "dailyMarks",
  afterDatasetsDraw(chart) {
    const { x, y } = chart.scales;
    const g = chart.ctx;
    const x0 = x.getPixelForValue(dyZoneX[0]), x1 = x.getPixelForValue(dyZoneX[1]);
    const y0 = y.getPixelForValue(dyZoneY[1]), y1 = y.getPixelForValue(dyZoneY[0]);
    g.save();
    g.fillStyle = "rgba(238,238,190,0.82)";
    g.fillRect(x0, y0, x1 - x0, y1 - y0);
    g.strokeStyle = "#b22222";
    g.lineWidth = 2.5;
    g.strokeRect(x0, y0, x1 - x0, y1 - y0);
    const ax = x.getPixelForValue(dyTargetX[0]), ay = y.getPixelForValue(dyTargetY[0]);
    const bx = x.getPixelForValue(dyTargetX[1]), by = y.getPixelForValue(dyTargetY[1]);
    g.lineWidth = 2;
    g.beginPath(); g.moveTo(ax, ay); g.lineTo(bx - 4, by + 4); g.stroke();
    g.fillStyle = "#b22222";
    g.beginPath(); g.moveTo(bx, by); g.lineTo(bx - 12, by + 2); g.lineTo(bx - 2, by + 12); g.closePath(); g.fill();
    g.restore();
  },
};

/* one canvas = one pane; axis strip widths are fixed so the plots line up */
function pane(box, conf) {
  const c = document.createElement("canvas");
  c.width = box.w; c.height = box.h;
  c.style.cssText = `left:${box.x}px;top:${box.y}px;width:${box.w}px;height:${box.h}px;background:${LAVENDER};`;
  stage.appendChild(c);
  const tickOn = (conf.xTicks || []).map((v) => ({ value: v }));
  const tickLabel = {};
  (conf.xTicks || []).forEach((v, i) => { tickLabel[v] = conf.xText[i]; });
  return new Chart(c, {
    type: "line",
    data: { datasets: conf.datasets },
    plugins: conf.plugins || [],
    options: {
      responsive: false, animation: false, devicePixelRatio: 1,
      layout: { padding: 0, autoPadding: false },
      plugins: { legend: { display: false }, tooltip: { enabled: false } },
      scales: {
        x: {
          type: "linear", bounds: "data", offset: false, min: conf.xMin, max: conf.xMax,
          display: !!conf.xTicks,
          afterBuildTicks: (s) => { if (conf.xTicks) s.ticks = tickOn; },
          afterFit: (s) => { s.height = conf.xH || 0; s.paddingLeft = 0; s.paddingRight = 0; },
          border: { color: "#808088", width: 1.5 },
          grid: { offset: false, drawOnChartArea: false, color: "#808088", tickLength: 6 },
          ticks: {
            autoSkip: false, maxRotation: 0, minRotation: 0, color: TEXT_GREY,
            font: { family: FONT, size: 16 }, padding: 5,
            callback: (v) => tickLabel[v] || "",
          },
        },
        y: {
          type: "linear", bounds: "data", position: "right", min: conf.yMin, max: conf.yMax,
          afterBuildTicks: (s) => { s.ticks = conf.yTicks.map((v) => ({ value: v })); },
          afterFit: (s) => { s.width = box.w - conf.plotW; s.paddingTop = 0; s.paddingBottom = 0; },
          border: { color: "#9a9aa4", width: 1 },
          grid: {
            drawOnChartArea: !!conf.yGrid, tickLength: 5,
            color: (c) => (c.tick && conf.yGrid && conf.yGrid.includes(c.tick.value) ? "#c9c9cf" : "transparent"),
            tickColor: "#8a8a92",
          },
          ticks: {
            autoSkip: false, color: TEXT_GREY,
            font: { family: FONT, size: 16.5 }, padding: 3,
            callback: conf.yLabel,
          },
        },
      },
    },
  });
}

const priceLabel = (v) => v.toFixed(2);

/* ══════════════════════════════════════
   CHROME
══════════════════════════════════════ */
function glyph(kind, cx, cy, color) {
  const paths = {
    bars: `<path d="M5 5v18M2 9h6v10H2zM13 1v22M10 4h6v15h-6zM21 3v20M18 7h6v13h-6z" fill="${color}" stroke="${color}" stroke-width="1.2"/>`,
    ticks: `<path d="M5 3v20M12 1v20M19 5v20M2 8h3M5 14h3M9 6h3M12 12h3M16 11h3M19 18h3" fill="none" stroke="${color}" stroke-width="1.8"/>`,
    pencil: `<path d="M3 4l4-3 15 19 1 5-5-2zM6 7l4-3M8 6l11 15" fill="none" stroke="${color}" stroke-width="1.6"/>`,
    zoomin: `<circle cx="10" cy="10" r="8" fill="none" stroke="${color}" stroke-width="1.8"/><path d="M6 10h8M10 6v8M16 16l8 9" fill="none" stroke="${color}" stroke-width="2.2"/>`,
    zoomout: `<circle cx="10" cy="10" r="8" fill="none" stroke="#777" stroke-width="1.8"/><path d="M6 10h8M16 16l8 9" fill="none" stroke="#777" stroke-width="2.2"/>`,
    cursor: `<path d="M5 2l14 14-6 1 4 8-3 1-4-8-5 4z" fill="none" stroke="${color}" stroke-width="1.6"/>`,
    report: `<path d="M3 1h13l5 5v19H3zM7 8h8M7 13h5M7 18h5" fill="none" stroke="${color}" stroke-width="1.6"/><circle cx="17" cy="16" r="4" fill="none" stroke="${color}" stroke-width="1.6"/>`,
    panel: `<path d="M3 3h10v7H3zM3 16h10v7H3zM17 2h7v23h-7z" fill="none" stroke="${color}" stroke-width="1.6"/>`,
    frame: `<path d="M8 20v-7M13 20V6M18 20v-9M2 8V2h6M18 2h6v6M2 18v6h6M18 24h6v-6" fill="none" stroke="${color}" stroke-width="1.8"/>`,
    nodes: `<path d="M5 21l6-10 6 5 6-12" fill="none" stroke="${color}" stroke-width="1.6"/><circle cx="5" cy="21" r="2.5" fill="none" stroke="${color}"/><circle cx="11" cy="11" r="2.5" fill="none" stroke="${color}"/><circle cx="17" cy="16" r="2.5" fill="none" stroke="${color}"/><circle cx="23" cy="4" r="2.5" fill="none" stroke="${color}"/>`,
    clip: `<path d="M3 3h19v22H3zM7 1h11v4H7zM7 10l4 4M11 10l-4 4M14 17l4 4M18 17l-4 4" fill="none" stroke="${color}" stroke-width="1.5"/>`,
    list: `<path d="M3 3h4v4H3zM3 12h4v4H3zM3 21h4v4H3zM11 5h14M11 14h14M11 23h14" fill="none" stroke="${color}" stroke-width="1.6"/>`,
    caret: `<path d="M4 9h16l-8 8z" fill="${color}"/>`,
  };
  el(cx - 13, cy - 13, 27, 27, "",).innerHTML =
    `<svg width="27" height="27" viewBox="0 0 27 27">${paths[kind]}</svg>`;
}

function combo(x, y, w, h, text) {
  el(x, y, w, h, `background:#3a3a3e;color:#c4c4c4;font-size:18px;line-height:${h}px;padding-left:10px;`, text);
  const chev = el(x + w - 32, y + h / 2 - 7, 20, 14);
  chev.innerHTML = `<svg width="20" height="14"><path d="M3 3l7 8 7-8" fill="none" stroke="#ddd" stroke-width="3"/></svg>`;
}

function windowButtons(xs, y, h, closeRed) {
  el(xs[0], y, 25, h, "background:linear-gradient(#8e8e8e,#c4c4c4 40%,#a8a8a8);");
  el(xs[1], y, 25, h, "background:#00e800;");
  const kinds = [
    `<path d="M5 ${h - 7}h14" stroke="#eee" stroke-width="3"/>`,
    `<path d="M5 5h14v${h - 10}H5zM5 7h14" fill="none" stroke="#eee" stroke-width="2"/>`,
    `<path d="M6 6l12 ${h - 12}M18 6L6 ${h - 6}" stroke="#eee" stroke-width="3.5"/>`,
  ];
  [2, 3, 4].forEach((k, i) => {
    const red = closeRed && i === 2;
    const b = el(xs[k], y, 25, h, `border:1.5px solid #c8c8c8;background:${red ? "#b02020" : "#222"};`);
    b.innerHTML = `<svg width="23" height="${h}" style="display:block">${kinds[i]}</svg>`;
  });
}

function tab(x, y, w, h, size) {
  el(x, y, w, h, `background:#e03c00;color:#fff;font-size:${size}px;line-height:${h}px;text-align:center;`, "Chart");
}

/* ══════════════════════════════════════
   240 MINUTE PANEL
══════════════════════════════════════ */
tab(2, 2, 77, 32, 24);
combo(108, 5, 202, 28, "NQ 12-25");
combo(320, 5, 202, 28, "240 Minute");
glyph("bars", 556, 19, "#c8c8c8");
glyph("caret", 603, 19, "#c8c8c8");
windowButtons([623, 654, 684, 715, 746], 7, 26);

const h4Price = [
  ...sessions(h4Sessions, 23702, 25849, "#b5b5bb"),
  ...band(h4BandTop, h4BandLow, "rgba(205,205,205,0.36)", 8),
  ...band(h4BearTop, h4BearLow, "rgba(255,160,80,0.17)", 7),
  ...band(h4BullTop, h4BullLow, "rgba(100,149,237,0.2)", 7),
  line(h4Thin, "#c4c4c4", 1),
  line(h4Upper, "#1e90ff", 1.6),
  line(h4Lower, "#1e90ff", 1.6),
  trail(h4Trail, h4TrailState),
  ...candles(h4Open, h4High, h4Low, h4Close, 6),
  arrows(h4UpArrows, upArrow),
  arrows(h4DownArrows, downArrow, 180),
];
pane({ x: 13, y: 51, w: 752, h: 530 }, {
  datasets: h4Price, plugins: [priceFlag], plotW: 665, xMin: -1.12, xMax: 61.4,
  yMin: 23702, yMax: 25849, yTicks: h4PriceTicks, yLabel: priceLabel,
});
pane({ x: 13, y: 581, w: 752, h: 251 }, {
  datasets: [
    ...sessions(h4Sessions, -3.01, 2.79, "#b5b5bb"),
    oscBars(h4Osc, 4.5),
    line(h4OscLine, "#000080", 1.6, { order: 2 }),
  ],
  plotW: 665, xH: 33, xMin: -1.12, xMax: 61.4, xTicks: h4TickAt, xText: h4TickText,
  yMin: -3.01, yMax: 2.79, yTicks: h4OscTicks, yGrid: [2, 0, -2],
  yLabel: (v) => ([1.5, 0.5, -0.5, -1.5, -2.5].includes(v) ? String(v) : ""),
});
el(13, 581, 752, 1, "background:#c6c6cc;z-index:2;");
label(26, 103, 17.2, TEXT_GREY, "Remek!  NQ DEC25  240 Minute  2025-12-04 3:43 AM");
label(27, 130, 18.4, TEXT_GREY, "3 ATR = 8195 USD");
label(17, 783, 16.8, TEXT_GREY, "© 2025 NinjaTrader, LLC");

/* ══════════════════════════════════════
   60 MINUTE PANEL
══════════════════════════════════════ */
tab(777, 2, 74, 35, 24);
combo(880, 5, 203, 29, "NQ 12-25");
combo(1093, 5, 202, 29, "60 Minute");
glyph("ticks", 1327, 20, "#c8c8c8");
glyph("pencil", 1373, 20, "#c8c8c8");
glyph("zoomin", 1418, 20, "#c8c8c8");
glyph("caret", 1469, 19, "#c8c8c8");
windowButtons([1488, 1518, 1549, 1580, 1611], 7, 26);

pane({ x: 786, y: 51, w: 844, h: 475 }, {
  datasets: [
    ...sessions(h1Sessions, 25077, 25840, "#6d6d6d", [4, 3]),
    ...band(h1BandTop, h1BandLow, "rgba(205,205,205,0.42)", 8),
    line(h1Thin, "#b9b9b9", 1.2),
    line(h1Upper, "#1e90ff", 2),
    line(h1Lower, "#1e90ff", 2),
    trail(h1Trail, h1TrailState),
    ...stairs(h1SupportSalmon, "#fa8072"),
    ...ohlcBars(h1Open, h1High, h1Low, h1Close, 3.5),
    ...stairs(h1ResistTeal, "#008b8b"),
    ...stairs(h1MidRed, "#b22222"),
    arrows(h1UpArrows, upArrow),
  ],
  plugins: [priceFlag], plotW: 757, xH: 33, xMin: -1.39, xMax: 83.8,
  xTicks: h1TickAt, xText: h1TickText,
  yMin: 25077, yMax: 25840, yTicks: h1PriceTicks, yLabel: priceLabel,
});
label(798, 104, 17.2, TEXT_GREY, "Remek!  NQ DEC25  60 Minute  2025-12-04 3:43 AM");
label(800, 130, 18.4, TEXT_GREY, "3 ATR = 3180 USD");
label(790, 479, 16.8, TEXT_GREY, "© 2025 NinjaTrader, LLC");

/* ══════════════════════════════════════
   15 MINUTE PANEL
══════════════════════════════════════ */
tab(1642, 2, 76, 35, 24);
combo(1747, 5, 203, 29, "NQ 12-25");
combo(1960, 5, 202, 29, "15 Minute");
glyph("ticks", 2194, 20, "#c8c8c8");
glyph("pencil", 2240, 20, "#c8c8c8");
glyph("zoomin", 2284, 20, "#c8c8c8");
glyph("caret", 2331, 19, "#c8c8c8");
windowButtons([2349, 2380, 2411, 2442, 2473], 7, 26);

pane({ x: 1653, y: 51, w: 839, h: 475 }, {
  datasets: [
    ...sessions(m15Sessions, 25401.8, 25751.4, "#6d6d6d", [4, 3]),
    ...band(m15BandTop, m15BandLow, "rgba(205,205,205,0.42)", 8),
    line(m15Thin, "#b9b9b9", 1.2),
    line(m15Upper, "#1e90ff", 2),
    line(m15Lower, "#1e90ff", 2),
    trail(m15Trail, m15TrailState),
    ...stairs(m15SupportSalmon, "#fa8072"),
    ...ohlcBars(m15Open, m15High, m15Low, m15Close, 2.8),
    ...stairs(m15ResistTeal, "#008b8b"),
    ...stairs(m15MidRed, "#b22222"),
    arrows(m15UpArrows, upArrow),
  ],
  plugins: [priceFlag], plotW: 752, xH: 33, xMin: -2.34, xMax: 116.6,
  xTicks: m15TickAt, xText: m15TickText,
  yMin: 25401.8, yMax: 25751.4, yTicks: m15PriceTicks, yLabel: priceLabel,
});
label(1665, 104, 17.2, "#222", "Remek!  NQ DEC25  15 Minute  2025-12-04 3:43 AM");
label(1667, 130, 18.4, TEXT_GREY, "3 ATR = 1175 USD");
label(1656, 479, 16.8, TEXT_GREY, "© 2025 NinjaTrader, LLC");

/* ══════════════════════════════════════
   WEEKLY PANEL
══════════════════════════════════════ */
tab(2, 846, 77, 33, 24);
combo(108, 847, 202, 29, "NQ 12-25");
combo(320, 847, 202, 29, "Weekly");
glyph("bars", 556, 862, "#c8c8c8");
glyph("caret", 603, 861, "#c8c8c8");
windowButtons([623, 654, 684, 715, 746], 849, 26);

pane({ x: 13, y: 893, w: 752, h: 557 }, {
  datasets: [
    ...band(wkBandTop, wkBandLow, "rgba(205,205,205,0.36)", 8),
    line(wkThin, "#cfcfcf", 1),
    line(wkUpper, "#1e90ff", 1.6),
    line(wkLower, "#1e90ff", 1.6),
    trail(wkTrail, wkTrailState),
    ...candles(wkOpen, wkHigh, wkLow, wkClose, 5.5),
    arrows(wkUpArrows, upArrow),
  ],
  plugins: [priceFlag], plotW: 665, xMin: -1.6, xMax: 72,
  yMin: 16666, yMax: 26937, yTicks: wkPriceTicks, yLabel: priceLabel,
});
pane({ x: 13, y: 1450, w: 752, h: 236 }, {
  datasets: [
    oscBars(wkOsc, 4),
    line(wkOscLine, "#000080", 1.6, { order: 2 }),
  ],
  plotW: 665, xH: 31, xMin: -1.6, xMax: 72, xTicks: wkTickAt, xText: wkTickText,
  yMin: -3.09, yMax: 5.02, yTicks: wkOscTicks, yGrid: [2, 0, -2],
  yLabel: (v) => String(v),
});
el(13, 1450, 752, 1, "background:#c6c6cc;z-index:2;");
label(25, 946, 17.2, TEXT_GREY, "Remek!  NQ DEC25  Weekly  2025-12-04 3:43 AM");
label(27, 972, 18.4, TEXT_GREY, "3 ATR = 56035 USD");
el(15, 997, 108, 25, `background:#a4d8c4;border:2px solid #3cb371;color:#5f7f73;font-size:16.5px;line-height:21px;padding-left:8px;z-index:3;`, "Long Setup");
label(17, 1638, 16.8, TEXT_GREY, "© 2025 NinjaTrader, LLC");

/* ══════════════════════════════════════
   DAILY PANEL
══════════════════════════════════════ */
el(770, 530, 1730, 48, "background:#1d1d1d;");
tab(775, 536, 76, 36, 24);
combo(880, 540, 203, 29, "NQ DEC25");
combo(1093, 540, 202, 29, "Daily");
[["bars", 1328], ["pencil", 1373], ["zoomin", 1419], ["zoomout", 1463], ["cursor", 1509], ["report", 1554], ["panel", 1599], ["frame", 1645], ["nodes", 1691], ["clip", 1736], ["list", 1781]]
  .forEach(([kind, x]) => glyph(kind, x, 554, "#d2d2d2"));
windowButtons([2350, 2381, 2412, 2442, 2473], 541, 26, true);

pane({ x: 786, y: 585, w: 1706, h: 661 }, {
  datasets: [
    ...band(dyBandTop, dyBandLow, "rgba(205,205,205,0.36)", 8),
    ...band(dyBearTop, dyBearLow, "rgba(255,160,80,0.17)", 7),
    ...band(dyBullTop, dyBullLow, "rgba(100,149,237,0.2)", 7),
    line(dyThin, "#b9b9b9", 1),
    line(dyUpper, "#1e90ff", 1.6),
    line(dyLower, "#1e90ff", 1.6),
    trail(dyTrail, dyTrailState),
    ...candles(dyOpen, dyHigh, dyLow, dyClose, 4.6),
    arrows(dyUpArrows, upArrow),
    arrows(dyDownArrows, downArrow, 180),
  ],
  plugins: [priceFlag, dailyMarks], plotW: 1619, xMin: -1.66, xMax: 242.5,
  yMin: 16646, yMax: 26975, yTicks: dyPriceTicks, yLabel: priceLabel,
});
pane({ x: 786, y: 1246, w: 1706, h: 205 }, {
  datasets: [
    line(dyMacd, "#000080", 1.6, { order: 2 }),
    line(dyMacdSignal, "#8b4513", 1.6, { order: 3 }),
  ],
  plotW: 1619, xMin: -1.66, xMax: 242.5,
  yMin: -1054, yMax: 1017, yTicks: dyMacdTicks, yGrid: [0],
  yLabel: (v) => ([800, 400, 0, -400, -800].includes(v) ? String(v) : ""),
});
pane({ x: 786, y: 1451, w: 1706, h: 235 }, {
  datasets: [
    oscBars(dyOsc, 3.6),
    line(dyOscLine, "#000080", 1.6, { order: 2 }),
  ],
  plotW: 1619, xH: 30, xMin: -1.66, xMax: 242.5, xTicks: dyTickAt, xText: dyTickText,
  yMin: -5.48, yMax: 7.57, yTicks: dyOscTicks, yGrid: [2, 0, -2],
  yLabel: (v) => ([5, 3, 1, -1, -3, -5].includes(v) ? String(v) : ""),
});
el(786, 1246, 1706, 1, "background:#c6c6cc;z-index:2;");
el(786, 1451, 1706, 1, "background:#c6c6cc;z-index:2;");
el(2492, 585, 8, 1101, "background:#2e2e31;z-index:2;");
label(802, 647, 28.2, TEXT_GREY, "Remek!  NQ DEC25  Daily  2025-12-04 3:43 AM");
label(800, 682, 20, TEXT_GREY, "3 ATR = 27140 USD");
el(788, 732, 81, 26, `background:#b8ecf8;border:2px solid #00e5ff;color:#5f8088;font-size:18px;line-height:22px;padding-left:3px;z-index:3;`, "Long Tail");
label(790, 1639, 16.8, TEXT_GREY, "© 2025 NinjaTrader, LLC");
el(2354, 604, 30, 28, "z-index:3;").innerHTML =
  `<svg width="30" height="28"><path d="M29 14H3M14 3L3 14l11 11" fill="none" stroke="#666" stroke-width="2.6"/></svg>`;
</script>
</body>
</html>
